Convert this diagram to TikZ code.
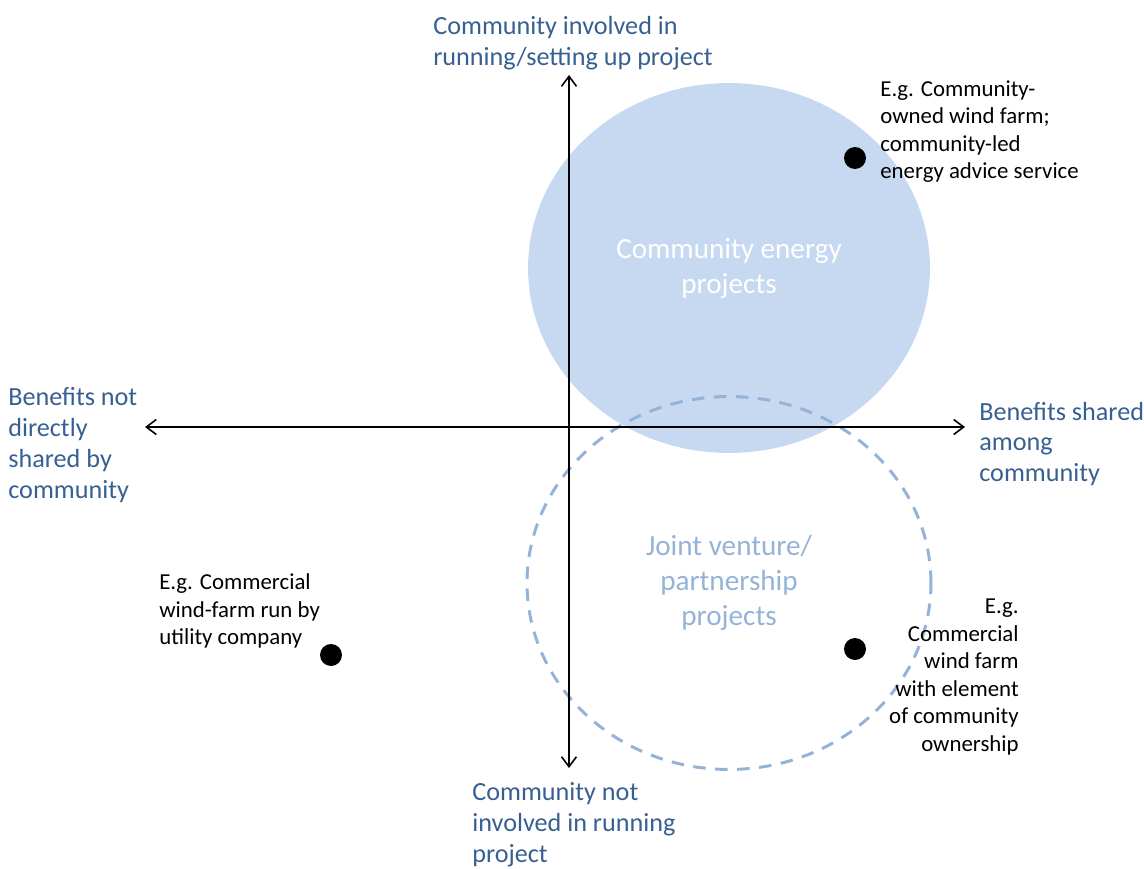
\documentclass[tikz,border=0pt]{standalone}
\usepackage{fontspec}
\setmainfont{Carlito}
\usetikzlibrary{positioning,arrows.meta,shapes.geometric}
\definecolor{axisblue}{HTML}{376092}
\definecolor{cefill}{HTML}{C6D9F1}
\definecolor{jvline}{HTML}{95B3D7}

\begin{document}
\begin{tikzpicture}[
    x=0.02cm, y=-0.02cm,
    axis/.style={{Straight Barb[length=2mm,width=3mm]}-{Straight Barb[length=2mm,width=3mm]}, line width=0.9pt},
    axislabel/.style={anchor=west, align=left, inner sep=0pt, text=axisblue, font=\fontsize{14.9}{17.6}\selectfont},
    example/.style={inner sep=0pt, font=\fontsize{13}{15.6}\selectfont},
    dot/.style={circle, fill=black, inner sep=0pt, minimum size=0.44cm},
    region/.style={ellipse, inner sep=0pt, align=center, font=\fontsize{16.6}{19.9}\selectfont},
]
\useasboundingbox (0,0) rectangle (1144,869);

% the two project regions
\node[region, fill=cefill, text=white, minimum width=8.04cm, minimum height=7.4cm] (ce) at (729,268) {Community energy\\projects};
\node[region, draw=jvline, line width=1.7pt, dash pattern=on 0.25cm off 0.19cm, text=jvline, minimum width=8.08cm, minimum height=7.46cm] (jv) at (729,583) {Joint venture/\\partnership\\projects};

% axes
\coordinate (west) at (145,427);
\coordinate (east) at (965,427);
\coordinate (north) at (569,75);
\coordinate (south) at (569,768);
\draw[axis] (west) -- (east);
\draw[axis] (south) -- (north);

\node[axislabel] (up) at (433,43) {Community involved in\\running/setting up project};
\node[axislabel] (down) at (472,825) {Community not\\involved in running\\project};
\node[axislabel] (notshared) at (8,445) {Benefits not\\directly\\shared by\\community};
\node[axislabel] (shared) at (979,444) {Benefits shared\\among\\community};

% examples
\node[dot] (d1) at (855,158) {};
\node[dot] (d2) at (331,655) {};
\node[dot] (d3) at (855,649) {};

\node[example, anchor=west, align=left] (e1) at (880,131.5) {E.g. Community-\\owned wind farm;\\community-led\\energy advice service};
\node[example, anchor=west, align=left] (e2) at (159,611) {E.g. Commercial\\wind-farm run by\\utility company};
\node[example, anchor=east, align=right] (e3) at (1019,677) {E.g.\\Commercial\\wind farm\\with element\\of community\\ownership};
\end{tikzpicture}
\end{document}
